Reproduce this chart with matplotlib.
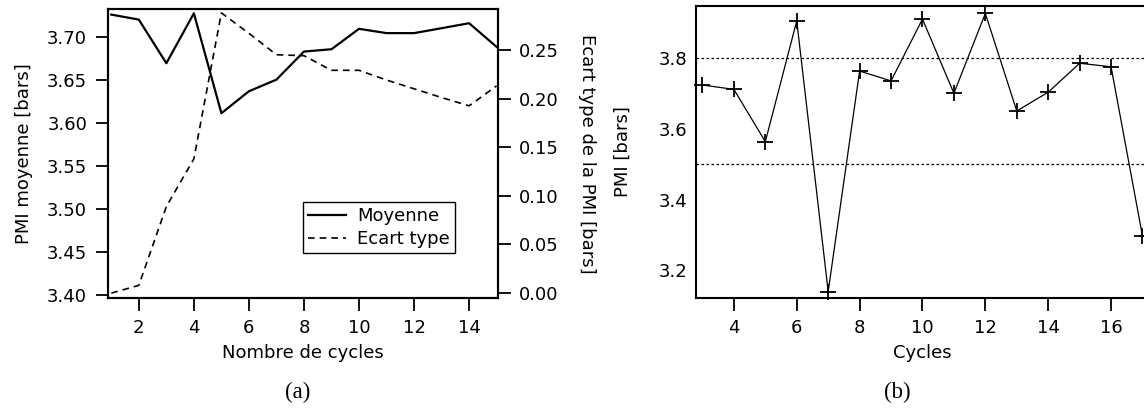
import matplotlib
matplotlib.use("Agg")
import matplotlib.pyplot as plt

# ---- data ----
cycles_a = [1, 2, 3, 4, 5, 6, 7, 8, 9, 10, 11, 12, 13, 14, 15]
pmi_moyenne = [3.7255, 3.7197, 3.669, 3.727, 3.611, 3.6365, 3.650, 3.6826, 3.6853,
               3.709, 3.704, 3.704, 3.7097, 3.7155, 3.688]
ecart_type = [0.0, 0.008, 0.089, 0.138, 0.288, 0.267, 0.245, 0.244, 0.229, 0.229,
              0.219, 0.210, 0.201, 0.1925, 0.213]

cycles_b = [3, 4, 5, 6, 7, 8, 9, 10, 11, 12, 13, 14, 15, 16, 17]
pmi_b = [3.7245, 3.712, 3.564, 3.906, 3.140, 3.764, 3.736, 3.911, 3.701, 3.927,
         3.651, 3.704, 3.786, 3.776, 3.297]
seuils = [3.8, 3.5]

left_ticks = [3.40, 3.45, 3.50, 3.55, 3.60, 3.65, 3.70]
right_ticks = [0.00, 0.05, 0.10, 0.15, 0.20, 0.25]
xticks_a = [2, 4, 6, 8, 10, 12, 14]
xticks_b = [4, 6, 8, 10, 12, 14, 16]
yticks_b = [3.2, 3.4, 3.6, 3.8]

plt.rcParams['font.family'] = ['DejaVu Sans']
FS = 13

W, H = 1144, 408
fig = plt.figure(figsize=(W / 100, H / 100), dpi=100)

def ax_rect(l, t, r, b):
    return [l / W, 1 - b / H, (r - l) / W, (b - t) / H]

# ---- panel (a) ----
ax1 = fig.add_axes(ax_rect(108, 9, 498, 298))
l1, = ax1.plot(cycles_a, pmi_moyenne, color='black', lw=1.6, label='Moyenne')
ax1.set_xlim(0.88, 15.05)
ax1.set_ylim(3.3965, 3.732)
ax1.set_xticks(xticks_a)
ax1.set_yticks(left_ticks)
ax1.set_yticklabels([f"{v:.2f}" for v in left_ticks])
ax1.tick_params(axis='both', direction='out', length=9, width=1.3, labelsize=FS, pad=6)
ax1.tick_params(axis='y', right=False)
ax1.set_ylabel('PMI moyenne [bars]', fontsize=FS, labelpad=10)
for s in ax1.spines.values():
    s.set_linewidth(1.5)

ax2 = ax1.twinx()
l2, = ax2.plot(cycles_a, ecart_type, color='black', lw=1.2, ls=(0, (4, 3)), label='Ecart type')
ax2.set_ylim(-0.005, 0.292)
ax2.set_yticks(right_ticks)
ax2.set_yticklabels([f"{v:.2f}" for v in right_ticks])
ax2.tick_params(axis='y', direction='out', length=9, width=1.3, labelsize=FS, pad=6)
ax2.set_ylabel('Ecart type de la PMI [bars]', fontsize=FS, rotation=270, labelpad=27)
for s in ax2.spines.values():
    s.set_linewidth(1.5)

leg = ax1.legend(handles=[l1, l2], loc='upper left', bbox_to_anchor=(0.5, 0.332),
                 fontsize=FS, frameon=True, fancybox=False, framealpha=1,
                 edgecolor='black', borderpad=0.3, handlelength=2.1,
                 handletextpad=0.6, labelspacing=0.25, borderaxespad=0)
leg.get_frame().set_linewidth(1.0)

fig.text(303 / W, 1 - 353 / H, 'Nombre de cycles', ha='center', va='center', fontsize=FS)
fig.text(298 / W, 1 - 392 / H, '(a)', ha='center', va='center', fontsize=16.5,
         family=['Liberation Serif', 'DejaVu Serif'])

# ---- panel (b) ----
ax3 = fig.add_axes(ax_rect(695.7, 6, 1144, 297.7))
ax3.plot(cycles_b, pmi_b, color='black', lw=0.9, marker='+', markersize=11,
         markeredgewidth=1.3, clip_on=False)
for v in seuils:
    ax3.axhline(v, color='black', lw=0.9, ls=(0, (2, 2)))
ax3.set_xlim(2.785, 17.048)
ax3.set_ylim(3.1225, 3.948)
ax3.set_xticks(xticks_b)
ax3.set_yticks(yticks_b)
ax3.set_yticklabels([f"{v:.1f}" for v in yticks_b])
ax3.tick_params(axis='x', direction='out', length=9, width=1.3, labelsize=FS, pad=6)
ax3.tick_params(axis='y', length=0, labelsize=FS, pad=6)
ax3.spines['right'].set_visible(False)
for s in ax3.spines.values():
    s.set_linewidth(1.5)
ax3.set_ylabel('PMI [bars]', fontsize=FS, labelpad=19)

fig.text(922 / W, 1 - 353 / H, 'Cycles', ha='center', va='center', fontsize=FS)
fig.text(897 / W, 1 - 392 / H, '(b)', ha='center', va='center', fontsize=16.5,
         family=['Liberation Serif', 'DejaVu Serif'])

fig.savefig('out.png', dpi=100)
